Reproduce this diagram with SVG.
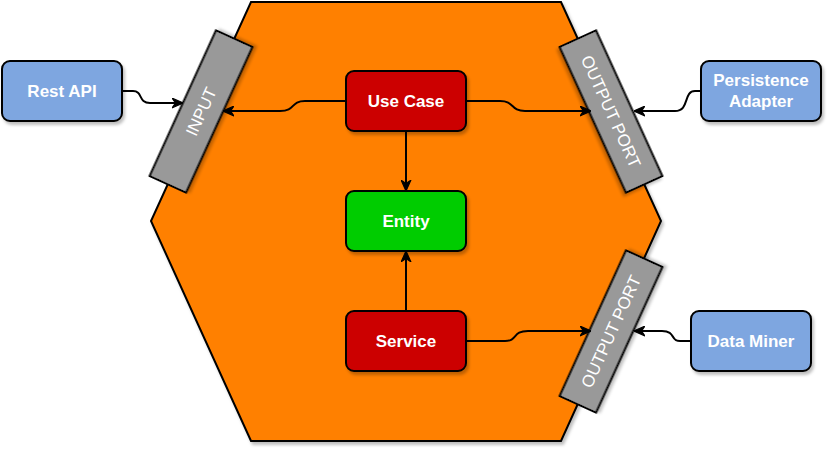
<svg xmlns="http://www.w3.org/2000/svg" width="834" height="454" viewBox="0 0 834 454">
<style>
.sh{filter:url(#shadow)}
.node{stroke:#000;stroke-width:2}
.blue{fill:#7EA6E0}
.red{fill:#CC0000}
.green{fill:#00CC00}
.port{fill:#999999;stroke:#000;stroke-width:2}
.lbl{font-family:"Liberation Sans",Arial,sans-serif;font-size:17px;font-weight:bold;fill:#fff;text-anchor:middle}
.plbl{font-family:"Liberation Sans",Arial,sans-serif;font-size:17px;fill:#fff;text-anchor:middle}
.edge{fill:none;stroke:#000;stroke-width:2;marker-end:url(#arrow)}
</style>
<defs>
<filter id="shadow" x="-10%" y="-10%" width="130%" height="130%">
<feDropShadow dx="2" dy="3" stdDeviation="1.5" flood-color="#000" flood-opacity="0.25"/>
</filter>
<marker id="arrow" viewBox="0 0 10 10" refX="9" refY="5" markerWidth="11" markerHeight="11" markerUnits="userSpaceOnUse" orient="auto">
<path d="M0,0.5 L10,5 L0,9.5 L3,5 Z" fill="#000" stroke="#000" stroke-width="1"/>
</marker>
</defs>
<g id="hexagon">
<polygon class="sh" points="251,2 561,2 661,221 561,441 251,441 151,221" fill="#FF8000" stroke="#000" stroke-width="2"/>
</g>
<g id="input-port">
<g transform="rotate(-65.5 201 111.5)">
<rect class="port sh" x="121" y="91.5" width="160" height="40"/>
<text class="plbl" x="201" y="117.5">INPUT</text>
</g>
</g>
<g id="output-port-top">
<g transform="rotate(65.5 611 111.5)">
<rect class="port sh" x="531" y="91.5" width="160" height="40"/>
<text class="plbl" x="611" y="117.5">OUTPUT PORT</text>
</g>
</g>
<g id="output-port-bottom">
<g transform="rotate(-65.5 611 331.5)">
<rect class="port sh" x="531" y="311.5" width="160" height="40"/>
<text class="plbl" x="611" y="337.5">OUTPUT PORT</text>
</g>
</g>
<g id="connectors">
<path class="edge" d="M122,91 L133,91 C143,91 138,103 150,103 L182,103"/>
<path class="edge" d="M346,101 L305,101 C290,101 296,111 280,111 L224,111"/>
<path class="edge" d="M467,101 L500,101 C515,101 510,111 525,111 L590,111"/>
<path class="edge" d="M701,91 L695,91 C683,91 690,111 675,111 L635,111"/>
<path class="edge" d="M406,131 L406,190"/>
<path class="edge" d="M406,311 L406,252"/>
<path class="edge" d="M467,341 L505,341 C518,341 512,331 528,331 L590,331"/>
<path class="edge" d="M691,341 L680,341 C670,341 676,331 662,331 L635,331"/>
</g>
<g id="rest-api">
<rect class="node blue sh" x="2" y="61" width="120" height="60" rx="8"/>
<text class="lbl" x="62" y="97">Rest API</text>
</g>
<g id="persistence-adapter">
<rect class="node blue sh" x="701" y="61" width="120" height="60" rx="8"/>
<text class="lbl" x="761" y="86">Persistence</text>
<text class="lbl" x="761" y="107">Adapter</text>
</g>
<g id="data-miner">
<rect class="node blue sh" x="691" y="311" width="120" height="60" rx="8"/>
<text class="lbl" x="751" y="347">Data Miner</text>
</g>
<g id="use-case">
<rect class="node red sh" x="346" y="71" width="120" height="60" rx="8"/>
<text class="lbl" x="406" y="107">Use Case</text>
</g>
<g id="entity">
<rect class="node green sh" x="346" y="191" width="120" height="60" rx="8"/>
<text class="lbl" x="406" y="227">Entity</text>
</g>
<g id="service">
<rect class="node red sh" x="346" y="311" width="120" height="60" rx="8"/>
<text class="lbl" x="406" y="347">Service</text>
</g>
</svg>
